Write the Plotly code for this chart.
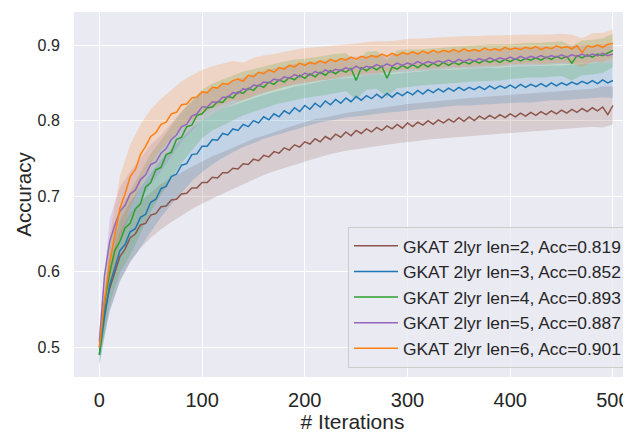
import plotly.graph_objects as go

iterations = list(range(0, 501, 5))
band_iterations = list(range(0, 501, 10))

series_names = [
    "GKAT 2lyr len=2, Acc=0.819",
    "GKAT 2lyr len=3, Acc=0.852",
    "GKAT 2lyr len=4, Acc=0.893",
    "GKAT 2lyr len=5, Acc=0.887",
    "GKAT 2lyr len=6, Acc=0.901",
]

acc_len2 = [0.500, 0.548, 0.578, 0.598, 0.620, 0.630, 0.645, 0.650, 0.662, 0.664, 0.675, 0.677, 0.686, 0.687, 0.695, 0.696, 0.703, 0.704, 0.711, 0.711,
            0.718, 0.718, 0.725, 0.724, 0.731, 0.731, 0.737, 0.736, 0.743, 0.742, 0.749, 0.747, 0.754, 0.752, 0.759, 0.757, 0.764, 0.761, 0.768, 0.765,
            0.772, 0.769, 0.776, 0.772, 0.779, 0.775, 0.782, 0.778, 0.785, 0.780, 0.787, 0.783, 0.789, 0.785, 0.791, 0.787, 0.793, 0.789, 0.795, 0.790,
            0.797, 0.792, 0.798, 0.794, 0.800, 0.795, 0.801, 0.797, 0.802, 0.798, 0.804, 0.799, 0.805, 0.800, 0.806, 0.802, 0.807, 0.803, 0.808, 0.804,
            0.809, 0.805, 0.810, 0.806, 0.811, 0.807, 0.812, 0.808, 0.813, 0.809, 0.814, 0.810, 0.815, 0.811, 0.816, 0.812, 0.817, 0.813, 0.818, 0.808,
            0.820]
acc_len3 = [0.490, 0.540, 0.582, 0.606, 0.628, 0.636, 0.653, 0.657, 0.672, 0.676, 0.692, 0.696, 0.710, 0.713, 0.726, 0.729, 0.741, 0.743, 0.755, 0.756,
            0.766, 0.766, 0.775, 0.774, 0.783, 0.781, 0.789, 0.787, 0.795, 0.792, 0.800, 0.797, 0.805, 0.801, 0.809, 0.805, 0.813, 0.809, 0.817, 0.812,
            0.820, 0.815, 0.823, 0.818, 0.826, 0.821, 0.828, 0.823, 0.830, 0.825, 0.832, 0.827, 0.833, 0.829, 0.835, 0.830, 0.836, 0.831, 0.837, 0.833,
            0.838, 0.834, 0.840, 0.835, 0.841, 0.837, 0.842, 0.838, 0.843, 0.839, 0.844, 0.840, 0.844, 0.841, 0.845, 0.841, 0.846, 0.842, 0.846, 0.843,
            0.847, 0.843, 0.848, 0.844, 0.848, 0.845, 0.849, 0.845, 0.850, 0.846, 0.850, 0.847, 0.851, 0.848, 0.852, 0.849, 0.853, 0.849, 0.854, 0.850,
            0.853]
acc_len4 = [0.490, 0.560, 0.598, 0.628, 0.640, 0.658, 0.664, 0.683, 0.690, 0.712, 0.718, 0.735, 0.738, 0.755, 0.758, 0.775, 0.778, 0.792, 0.794, 0.807,
            0.809, 0.817, 0.818, 0.825, 0.824, 0.832, 0.830, 0.838, 0.836, 0.843, 0.840, 0.847, 0.844, 0.851, 0.848, 0.854, 0.851, 0.857, 0.854, 0.860,
            0.856, 0.862, 0.858, 0.864, 0.860, 0.866, 0.862, 0.867, 0.864, 0.869, 0.853, 0.870, 0.866, 0.871, 0.867, 0.872, 0.856, 0.871, 0.868, 0.873,
            0.869, 0.874, 0.870, 0.875, 0.871, 0.876, 0.872, 0.877, 0.873, 0.877, 0.874, 0.878, 0.875, 0.879, 0.876, 0.880, 0.877, 0.880, 0.877, 0.881,
            0.878, 0.882, 0.879, 0.882, 0.880, 0.883, 0.880, 0.884, 0.881, 0.885, 0.882, 0.885, 0.876, 0.886, 0.883, 0.887, 0.884, 0.888, 0.886, 0.890,
            0.893]
acc_len5 = [0.508, 0.595, 0.640, 0.662, 0.680, 0.688, 0.703, 0.708, 0.722, 0.728, 0.742, 0.745, 0.757, 0.763, 0.775, 0.781, 0.792, 0.795, 0.806, 0.809,
            0.818, 0.818, 0.825, 0.824, 0.831, 0.831, 0.837, 0.836, 0.842, 0.841, 0.847, 0.846, 0.851, 0.850, 0.855, 0.853, 0.858, 0.856, 0.861, 0.858,
            0.863, 0.860, 0.865, 0.862, 0.867, 0.864, 0.868, 0.866, 0.870, 0.867, 0.872, 0.868, 0.872, 0.870, 0.874, 0.871, 0.875, 0.872, 0.876, 0.873,
            0.876, 0.874, 0.878, 0.875, 0.878, 0.876, 0.879, 0.877, 0.880, 0.877, 0.881, 0.878, 0.881, 0.879, 0.882, 0.879, 0.883, 0.880, 0.883, 0.881,
            0.884, 0.881, 0.885, 0.882, 0.885, 0.883, 0.886, 0.883, 0.886, 0.884, 0.887, 0.884, 0.887, 0.885, 0.888, 0.885, 0.888, 0.886, 0.889, 0.886,
            0.888]
acc_len6 = [0.500, 0.562, 0.612, 0.648, 0.684, 0.703, 0.726, 0.735, 0.755, 0.766, 0.779, 0.784, 0.795, 0.798, 0.809, 0.811, 0.821, 0.822, 0.830, 0.831,
            0.838, 0.837, 0.844, 0.843, 0.849, 0.848, 0.853, 0.855, 0.852, 0.860, 0.858, 0.864, 0.862, 0.867, 0.864, 0.870, 0.868, 0.873, 0.871, 0.876,
            0.873, 0.877, 0.875, 0.879, 0.876, 0.881, 0.878, 0.882, 0.880, 0.884, 0.881, 0.885, 0.883, 0.886, 0.884, 0.888, 0.885, 0.889, 0.886, 0.890,
            0.888, 0.891, 0.888, 0.892, 0.889, 0.893, 0.890, 0.893, 0.891, 0.894, 0.891, 0.895, 0.892, 0.894, 0.892, 0.896, 0.893, 0.895, 0.893, 0.897,
            0.894, 0.896, 0.894, 0.897, 0.895, 0.898, 0.894, 0.897, 0.895, 0.899, 0.896, 0.898, 0.895, 0.899, 0.890, 0.899, 0.897, 0.900, 0.897, 0.901,
            0.902]

# half-width of the shaded band, every 10 iterations
spread_len2 = [0.012, 0.030, 0.033, 0.032, 0.031, 0.030, 0.030, 0.029, 0.029, 0.028, 0.028, 0.028, 0.027, 0.027, 0.027, 0.027, 0.026, 0.026, 0.026, 0.026,
               0.026, 0.026, 0.025, 0.025, 0.025, 0.025, 0.025, 0.025, 0.025, 0.025, 0.025, 0.025, 0.025, 0.025, 0.025, 0.025, 0.025, 0.025, 0.025, 0.025,
               0.025, 0.025, 0.025, 0.025, 0.025, 0.025, 0.025, 0.025, 0.025, 0.027, 0.025]
spread_len3 = [0.012, 0.035, 0.040, 0.040, 0.040, 0.039, 0.038, 0.037, 0.036, 0.035, 0.034, 0.033, 0.032, 0.031, 0.030, 0.030, 0.029, 0.029, 0.028, 0.028,
               0.028, 0.027, 0.027, 0.027, 0.026, 0.026, 0.026, 0.026, 0.025, 0.025, 0.025, 0.025, 0.025, 0.025, 0.024, 0.024, 0.024, 0.024, 0.024, 0.024,
               0.024, 0.024, 0.024, 0.024, 0.023, 0.023, 0.023, 0.023, 0.023, 0.023, 0.023]
spread_len4 = [0.015, 0.040, 0.042, 0.042, 0.040, 0.038, 0.036, 0.035, 0.034, 0.033, 0.032, 0.031, 0.030, 0.030, 0.029, 0.028, 0.028, 0.027, 0.027, 0.027,
               0.026, 0.026, 0.026, 0.026, 0.025, 0.025, 0.025, 0.025, 0.025, 0.025, 0.025, 0.024, 0.024, 0.024, 0.024, 0.024, 0.024, 0.024, 0.024, 0.024,
               0.023, 0.023, 0.023, 0.023, 0.023, 0.023, 0.023, 0.023, 0.023, 0.023, 0.022]
spread_len5 = [0.012, 0.030, 0.032, 0.030, 0.028, 0.026, 0.024, 0.022, 0.020, 0.019, 0.018, 0.017, 0.016, 0.016, 0.015, 0.015, 0.015, 0.014, 0.014, 0.014,
               0.014, 0.013, 0.013, 0.013, 0.013, 0.013, 0.013, 0.013, 0.012, 0.012, 0.012, 0.012, 0.012, 0.012, 0.012, 0.012, 0.012, 0.012, 0.012, 0.012,
               0.012, 0.012, 0.012, 0.012, 0.012, 0.012, 0.012, 0.012, 0.012, 0.012, 0.012]
spread_len6 = [0.012, 0.035, 0.042, 0.042, 0.040, 0.036, 0.034, 0.032, 0.031, 0.030, 0.029, 0.028, 0.027, 0.026, 0.025, 0.025, 0.024, 0.024, 0.023, 0.023,
               0.023, 0.022, 0.022, 0.022, 0.021, 0.021, 0.021, 0.021, 0.020, 0.020, 0.020, 0.020, 0.020, 0.020, 0.020, 0.020, 0.020, 0.020, 0.020, 0.020,
               0.019, 0.019, 0.019, 0.019, 0.019, 0.019, 0.019, 0.019, 0.019, 0.019, 0.019]

x_ticks = [0, 100, 200, 300, 400, 500]
y_ticks = [0.5, 0.6, 0.7, 0.8, 0.9]

colors = ["#8c564b", "#1f77b4", "#2ca02c", "#9467bd", "#ff7f0e"]
fills = ["rgba(140,86,75,0.2)", "rgba(31,119,180,0.2)", "rgba(44,160,44,0.2)",
         "rgba(148,103,189,0.2)", "rgba(255,127,14,0.2)"]

means = [acc_len2, acc_len3, acc_len4, acc_len5, acc_len6]
spreads = [spread_len2, spread_len3, spread_len4, spread_len5, spread_len6]

fig = go.Figure()

for name, m, s, fc in zip(series_names, means, spreads, fills):
    center = m[::2]
    upper = [c + d for c, d in zip(center, s)]
    lower = [c - d for c, d in zip(center, s)]
    fig.add_trace(go.Scatter(
        x=band_iterations + band_iterations[::-1],
        y=upper + lower[::-1],
        fill="toself", fillcolor=fc, line=dict(width=0),
        mode="lines", showlegend=False, hoverinfo="skip",
    ))

for name, m, c in zip(series_names, means, colors):
    fig.add_trace(go.Scatter(
        x=iterations, y=m, mode="lines", name=name,
        line=dict(color=c, width=1.5),
    ))

fig.update_layout(
    width=623, height=425,
    margin=dict(l=66, r=0, t=4, b=56, autoexpand=False),
    paper_bgcolor="white",
    plot_bgcolor="#eaeaf2",
    font=dict(family="Liberation Sans, Arial, sans-serif", color="#262626", size=16),
    legend=dict(
        x=0.9928, y=0.0247, xanchor="right", yanchor="bottom",
        bgcolor="rgba(234,234,242,0.8)", bordercolor="#cccccc", borderwidth=1,
        font=dict(size=17.4, color="#262626"),
        itemwidth=44,
    ),
    xaxis=dict(
        range=[-24.7, 517.6], tickvals=x_ticks, showgrid=True, gridcolor="white",
        gridwidth=1, zeroline=False, showline=False, automargin=False,
        ticks="outside", ticklen=5, tickcolor="rgba(0,0,0,0)",
        tickfont=dict(size=20), title=dict(text="# Iterations", font=dict(size=21), standoff=7),
    ),
    yaxis=dict(
        range=[0.4608, 0.9437], tickvals=y_ticks, tickformat=".1f", showgrid=True,
        gridcolor="white", gridwidth=1, zeroline=False, showline=False,
        automargin=False, ticks="outside", ticklen=10, tickcolor="rgba(0,0,0,0)",
        tickfont=dict(size=16), title=dict(text="Accuracy", font=dict(size=20.5), standoff=0),
    ),
)

fig.write_html("out.html")
